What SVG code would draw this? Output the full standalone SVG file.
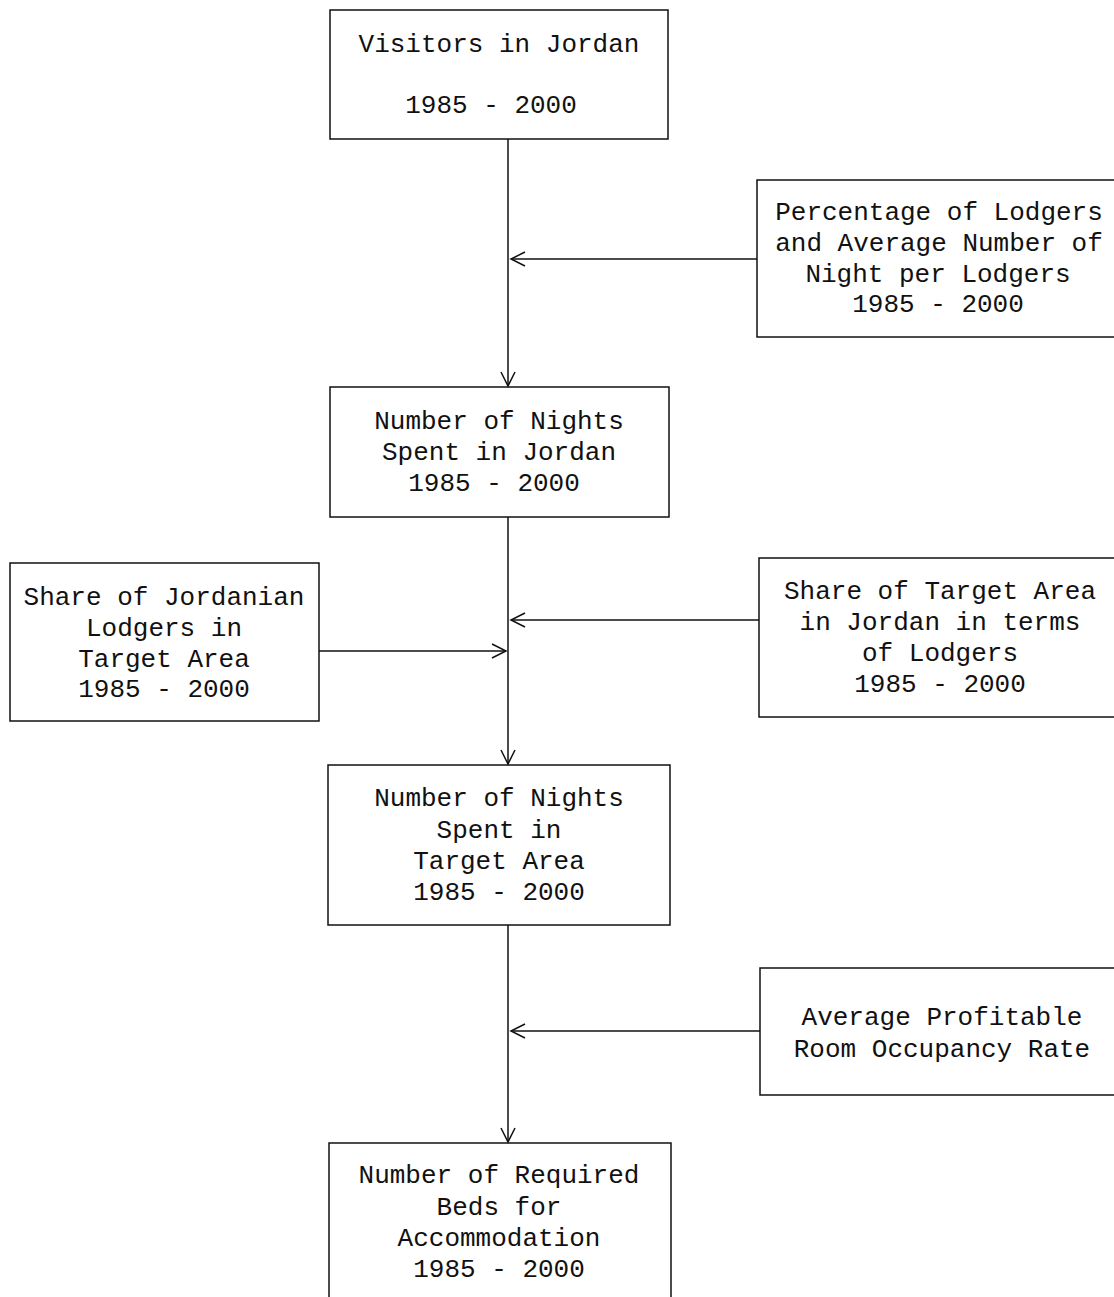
<svg xmlns="http://www.w3.org/2000/svg" width="1114" height="1297" viewBox="0 0 1114 1297">
<style>
.box{fill:none;stroke:#111;stroke-width:1.5}
.t{font-family:"Liberation Mono","DejaVu Sans Mono",monospace;font-size:26px;fill:#111;text-anchor:middle}
.c{fill:none;stroke:#111;stroke-width:1.5}
</style>
<defs>
<marker id="ah" markerWidth="20" markerHeight="20" refX="16" refY="8" orient="auto" markerUnits="userSpaceOnUse">
<polyline points="2,1 16,8 2,15" fill="none" stroke="#111" stroke-width="1.5"/>
</marker>
</defs>
<rect width="1114" height="1297" fill="#fff"/>
<g id="connectors">
<line class="c" x1="508" y1="139" x2="508" y2="386" marker-end="url(#ah)"/>
<line class="c" x1="757" y1="259" x2="511" y2="259" marker-end="url(#ah)"/>
<line class="c" x1="508" y1="517" x2="508" y2="764" marker-end="url(#ah)"/>
<line class="c" x1="759" y1="620" x2="511" y2="620" marker-end="url(#ah)"/>
<line class="c" x1="319" y1="651" x2="506" y2="651" marker-end="url(#ah)"/>
<line class="c" x1="508" y1="925" x2="508" y2="1142" marker-end="url(#ah)"/>
<line class="c" x1="760" y1="1031" x2="511" y2="1031" marker-end="url(#ah)"/>
</g>
<g id="visitors">
<rect class="box" x="330" y="10" width="338" height="129"/>
<text class="t" x="499" y="52">Visitors in Jordan</text>
<text class="t" x="491" y="113">1985 - 2000</text>
</g>
<g id="percentage">
<rect class="box" x="757" y="180" width="360" height="157"/>
<text class="t" x="939" y="220">Percentage of Lodgers</text>
<text class="t" x="939" y="251">and Average Number of</text>
<text class="t" x="938" y="282">Night per Lodgers</text>
<text class="t" x="938" y="312">1985 - 2000</text>
</g>
<g id="nights-jordan">
<rect class="box" x="330" y="387" width="339" height="130"/>
<text class="t" x="499" y="429">Number of Nights</text>
<text class="t" x="499" y="460">Spent in Jordan</text>
<text class="t" x="494" y="491">1985 - 2000</text>
</g>
<g id="share-jordanian">
<rect class="box" x="10" y="563" width="309" height="158"/>
<text class="t" x="164" y="605">Share of Jordanian</text>
<text class="t" x="164" y="636">Lodgers in</text>
<text class="t" x="164" y="667">Target Area</text>
<text class="t" x="164" y="697">1985 - 2000</text>
</g>
<g id="share-target">
<rect class="box" x="759" y="558" width="358" height="159"/>
<text class="t" x="940" y="599">Share of Target Area</text>
<text class="t" x="940" y="630">in Jordan in terms</text>
<text class="t" x="940" y="661">of Lodgers</text>
<text class="t" x="940" y="692">1985 - 2000</text>
</g>
<g id="nights-target">
<rect class="box" x="328" y="765" width="342" height="160"/>
<text class="t" x="499" y="806">Number of Nights</text>
<text class="t" x="499" y="838">Spent in</text>
<text class="t" x="499" y="869">Target Area</text>
<text class="t" x="499" y="900">1985 - 2000</text>
</g>
<g id="occupancy">
<rect class="box" x="760" y="968" width="357" height="127"/>
<text class="t" x="942" y="1025">Average Profitable</text>
<text class="t" x="942" y="1057">Room Occupancy Rate</text>
</g>
<g id="beds">
<rect class="box" x="329" y="1143" width="342" height="160"/>
<text class="t" x="499" y="1183">Number of Required</text>
<text class="t" x="499" y="1215">Beds for</text>
<text class="t" x="499" y="1246">Accommodation</text>
<text class="t" x="499" y="1277">1985 - 2000</text>
</g>
</svg>
